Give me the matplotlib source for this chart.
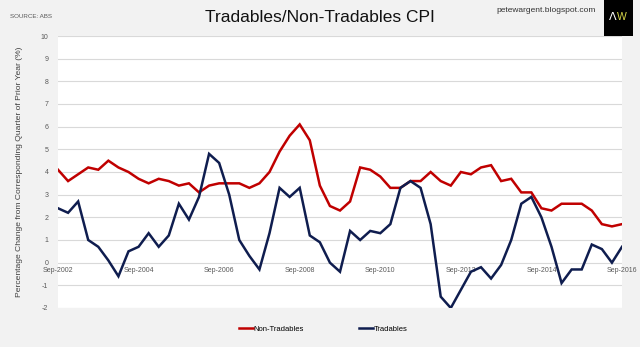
import matplotlib
matplotlib.use("Agg")
import matplotlib.pyplot as plt
from matplotlib.lines import Line2D
from matplotlib.patches import Rectangle
import numpy as np

# quarterly, Sep-2002 .. Sep-2016 (annual % change)
non_tradables = [4.1, 3.6, 3.9, 4.2, 4.1, 4.5, 4.2, 4.0, 3.7, 3.5,
                 3.7, 3.6, 3.4, 3.5, 3.1, 3.4, 3.5, 3.5, 3.5, 3.3,
                 3.5, 4.0, 4.9, 5.6, 6.1, 5.4, 3.4, 2.5, 2.3, 2.7,
                 4.2, 4.1, 3.8, 3.3, 3.3, 3.6, 3.6, 4.0, 3.6, 3.4,
                 4.0, 3.9, 4.2, 4.3, 3.6, 3.7, 3.1, 3.1, 2.4, 2.3,
                 2.6, 2.6, 2.6, 2.3, 1.7, 1.6, 1.7]
tradables = [2.4, 2.2, 2.7, 1.0, 0.7, 0.1, -0.6, 0.5, 0.7, 1.3,
             0.7, 1.2, 2.6, 1.9, 2.9, 4.8, 4.4, 3.0, 1.0, 0.3,
             -0.3, 1.3, 3.3, 2.9, 3.3, 1.2, 0.9, 0.0, -0.4, 1.4,
             1.0, 1.4, 1.3, 1.7, 3.3, 3.6, 3.3, 1.7, -1.5, -2.0,
             -1.2, -0.4, -0.2, -0.7, -0.1, 1.0, 2.6, 2.9, 2.0, 0.7,
             -0.9, -0.3, -0.3, 0.8, 0.6, 0.0, 0.7]
tick_pos = [0, 8, 16, 24, 32, 40, 48, 56]
tick_labels = ["Sep-2002", "Sep-2004", "Sep-2006", "Sep-2008",
               "Sep-2010", "Sep-2012", "Sep-2014", "Sep-2016"]
y_ticks = list(range(-2, 11))

RED = "#C00000"
NAVY = "#0F1D4F"
BG = "#F2F2F2"
GRID = "#D9D9D9"
TXT = "#595959"
SANS = ["Liberation Sans", "DejaVu Sans"]

plt.rcParams["font.family"] = SANS

fig = plt.figure(figsize=(6.4, 3.47), dpi=100, facecolor=BG)
ax = fig.add_axes([58 / 640, 39 / 347, 564 / 640, 272 / 347])
ax.set_facecolor("white")

x = np.arange(len(non_tradables))
ax.plot(x, non_tradables, color=RED, lw=1.8, solid_joinstyle="miter")
ax.plot(x, tradables, color=NAVY, lw=1.8, solid_joinstyle="miter")

ax.set_xlim(0, len(x) - 1)
ax.set_ylim(-2, 10)
ax.set_yticks(y_ticks)
ax.set_yticklabels([str(v) for v in y_ticks], fontsize=5, color=TXT)
ax.tick_params(axis="y", length=0, pad=7)
ax.set_xticks([])
ax.yaxis.grid(True, color=GRID, lw=0.8)
ax.set_axisbelow(True)
for s in ax.spines.values():
    s.set_visible(False)

# date labels sit on the zero line
for p, lab in zip(tick_pos, tick_labels):
    ax.text(p, -0.2, lab, ha="center", va="top", fontsize=5, color=TXT, zorder=0)

ax.set_ylabel("Percentage Change from Corresponding Quarter of Prior Year (%)",
              fontsize=6.1, color="#404040")
ax.yaxis.set_label_coords(-0.062, 0.5)

fig.text(0.5, 0.95, "Tradables/Non-Tradables CPI", ha="center", va="center",
         fontsize=12.5, color="#111111")
fig.text(10 / 640, 1 - 16 / 347, "SOURCE: ABS", fontsize=4.5, color=TXT,
         va="center")
fig.text(546 / 640, 1 - 10 / 347, "petewargent.blogspot.com", fontsize=6,
         color="#333333", ha="center", va="center")

# AW badge
fig.patches.append(Rectangle((604 / 640, 1 - 36 / 347), 29 / 640, 36 / 347,
                             transform=fig.transFigure, facecolor="black",
                             edgecolor="none"))
fig.text(613 / 640, 1 - 17 / 347, "Λ", fontsize=8, color="white", ha="center",
         va="center", family=["DejaVu Sans"])
fig.text(622 / 640, 1 - 17 / 347, "W", fontsize=7.5, color="#D8D84A", ha="center",
         va="center")

handles = [Line2D([], [], color=RED, lw=1.8), Line2D([], [], color=NAVY, lw=1.8)]
fig.legend(handles, ["Non-Tradables", "Tradables"], loc="center",
           bbox_to_anchor=(0.505, 1 - 329 / 347), ncol=2, frameon=False,
           handlelength=1.8, handletextpad=0.1, columnspacing=7.2,
           prop={"family": SANS, "size": 5.5})

fig.savefig("out.png", dpi=100, facecolor=BG)
